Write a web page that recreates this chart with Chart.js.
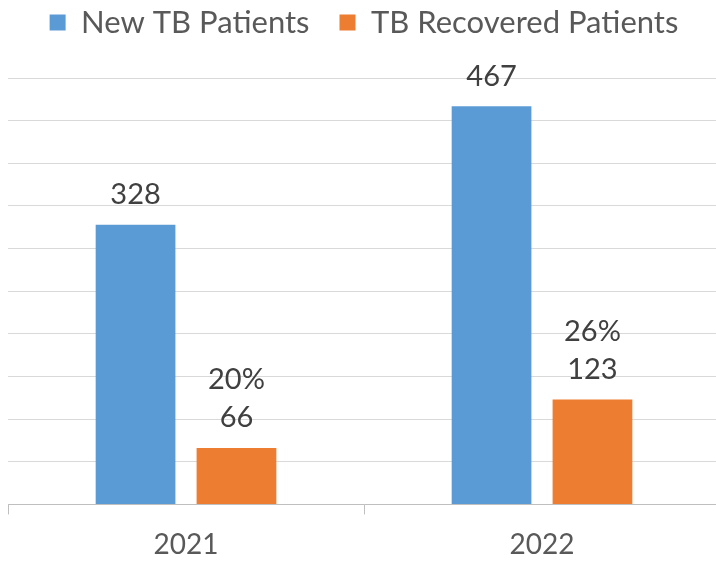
<!DOCTYPE html>
<html>
<head>
<meta charset="utf-8">
<script src="https://cdn.jsdelivr.net/npm/chart.js@4"></script>
<style>
  html, body { margin: 0; padding: 0; background: #ffffff; overflow: hidden; }
  #wrap { width: 720px; height: 599px; position: relative; margin-top: -23px; }
</style>
</head>
<body>
<div id="wrap"><canvas id="chart"></canvas></div>
<script>
// Data
const years = ['2021', '2022'];
const newPatients = [328, 467];
const recoveredPatients = [66, 123];
const recoveredShare = ['20%', '26%'];

const FONT = "Lato, 'Liberation Sans', sans-serif";
const COLORS = {
    blue: '#5b9bd5',
    orange: '#ed7d31',
    grid: '#d9d9d9',
    axis: '#bfbfbf',
    legend: '#595959',
    label: '#404040',
};

// draws the value labels above each bar (no datalabels plugin available)
const barLabels = {
    id: 'barLabels',
    afterDatasetsDraw(chart) {
        const ctx = chart.ctx;
        ctx.save();
        ctx.font = '29px ' + FONT;
        ctx.fillStyle = COLORS.label;
        ctx.textAlign = 'center';
        ctx.textBaseline = 'middle';
        chart.data.datasets.forEach((ds, di) => {
            chart.getDatasetMeta(di).data.forEach((bar, i) => {
                const lines = [String(ds.data[i])];
                if (ds.extra) lines.unshift(ds.extra[i]);
                lines.reverse().forEach((txt, k) => {
                    ctx.fillText(txt, bar.x, bar.y - 30 - k * 38);
                });
            });
        });
        ctx.restore();
    }
};

// extra room between the legend and the plot
const legendGap = {
    id: 'legendGap',
    beforeInit(chart) {
        const fit = chart.legend.fit;
        chart.legend.fit = function () {
            fit.call(this);
            this.height += 30;
        };
    }
};

new Chart(document.getElementById('chart'), {
    type: 'bar',
    data: {
        labels: years,
        datasets: [
            {
                label: 'New TB Patients',
                data: newPatients,
                backgroundColor: COLORS.blue,
                categoryPercentage: 0.567,
                barPercentage: 0.79,
            },
            {
                label: 'TB Recovered Patients',
                data: recoveredPatients,
                extra: recoveredShare,
                backgroundColor: COLORS.orange,
                categoryPercentage: 0.567,
                barPercentage: 0.79,
            },
        ]
    },
    options: {
        responsive: true,
        maintainAspectRatio: false,
        animation: false,
        layout: { padding: { left: 8, right: 0, top: 0, bottom: 0 } },
        plugins: {
            legend: {
                position: 'top',
                labels: {
                    color: COLORS.legend,
                    font: { size: 31, family: FONT },
                    boxWidth: 16,
                    boxHeight: 16,
                    padding: 30,
                }
            },
            tooltip: { enabled: false },
        },
        scales: {
            x: {
                grid: {
                    offset: true,
                    drawOnChartArea: false,
                    color: COLORS.axis,
                    tickLength: 10,
                },
                border: { color: COLORS.axis },
                ticks: {
                    color: COLORS.legend,
                    font: { size: 28, family: FONT },
                    padding: 14,
                },
            },
            y: {
                min: 0,
                max: 500,
                ticks: { stepSize: 50, display: false },
                grid: { color: COLORS.grid, drawTicks: false },
                border: { display: false },
            }
        }
    },
    plugins: [barLabels, legendGap],
});
</script>
</body>
</html>
